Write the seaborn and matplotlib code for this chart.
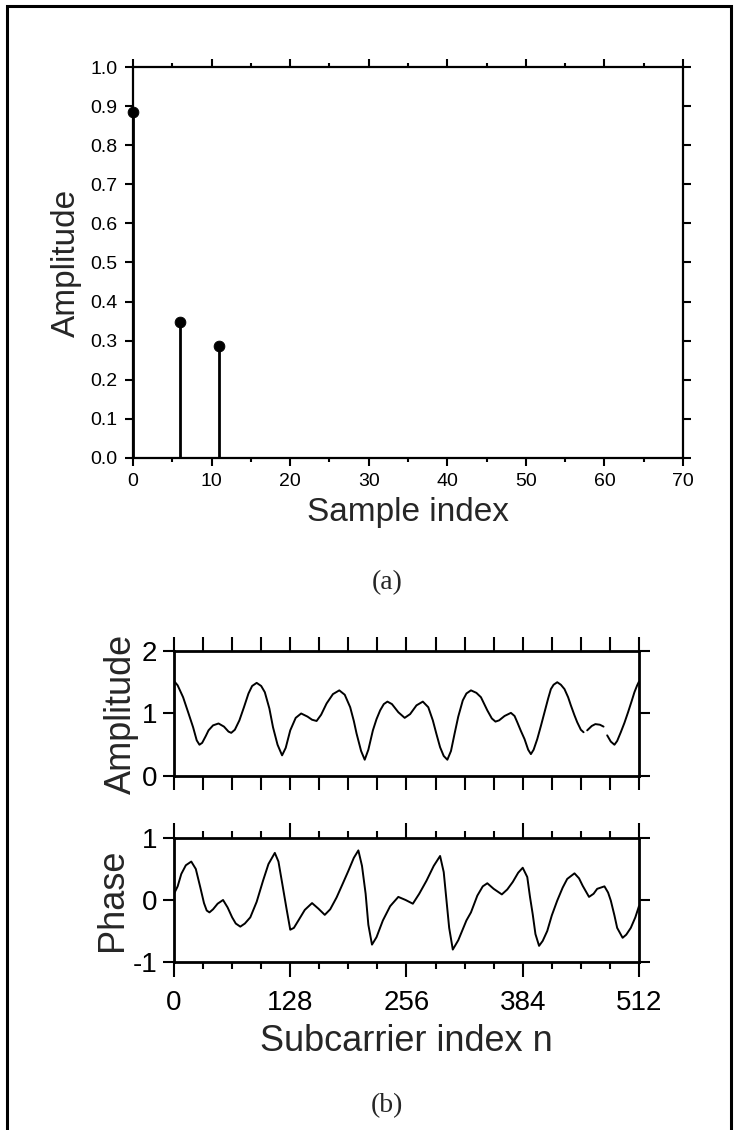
import numpy as np
import pandas as pd
import matplotlib
matplotlib.use("Agg")
import matplotlib.pyplot as plt
import seaborn as sns

# --- channel impulse response (a) ---
tap_index = [0, 6, 11]
tap_amp = [0.885, 0.347, 0.286]

# --- frequency response (b); NaN marks a break in the line ---
amp_n = [0, 4, 10, 16, 21, 25, 28, 31, 35, 38, 43, 49, 55, 60, 63, 67, 72, 77, 82, 86,
         91, 96, 100, 105, 109, 114, 119, 123, 128, 134, 140, 147, 152, 157, 162, 168, 175, 182, 188, 194,
         198, 201, 206, 210, 214, 219, 223, 227, 231, 235, 240, 247, 254, 260, 267, 274, 280, 285, 289, 293,
         297, 301, 305, 309, 313, 318, 322, 327, 333, 338, 345, 350, 354, 358, 364, 371, 375, 378, 382, 386,
         390, 393, 396, 400, 404, 408, 412, 415, 418, 422, 426, 430, 434, 437, 441, 444, 448, 451, 453, 455,
         460, 464, 469, 473, 475, 477, 481, 485, 488, 492, 496, 500, 504, 507, 510, 512]
amp_val = [1.52, 1.45, 1.26, 1.00, 0.78, 0.57, 0.50, 0.53, 0.64, 0.73, 0.81, 0.84, 0.79, 0.71, 0.69, 0.74, 0.89, 1.10, 1.32, 1.44,
           1.49, 1.44, 1.34, 1.08, 0.78, 0.50, 0.33, 0.45, 0.73, 0.93, 1.00, 0.95, 0.90, 0.88, 0.98, 1.16, 1.31, 1.37, 1.30, 1.10,
           0.88, 0.68, 0.40, 0.26, 0.42, 0.73, 0.91, 1.05, 1.15, 1.19, 1.15, 1.02, 0.93, 0.99, 1.13, 1.19, 1.10, 0.89, 0.67, 0.46,
           0.32, 0.26, 0.40, 0.68, 0.95, 1.21, 1.32, 1.37, 1.33, 1.26, 1.05, 0.92, 0.87, 0.89, 0.96, 1.01, 0.96, 0.86, 0.72, 0.59,
           0.42, 0.35, 0.42, 0.59, 0.80, 1.02, 1.24, 1.39, 1.46, 1.50, 1.46, 1.39, 1.26, 1.13, 0.97, 0.86, 0.74, 0.70, np.nan, 0.73,
           0.80, 0.83, 0.82, 0.79, np.nan, 0.65, 0.55, 0.50, 0.56, 0.70, 0.85, 1.02, 1.20, 1.34, 1.45, 1.51]

phase_n = [0, 4, 8, 13, 19, 24, 29, 33, 36, 39, 43, 48, 54, 59, 64, 68, 73, 78, 84, 91,
           98, 104, 111, 115, 119, 124, 128, 132, 137, 144, 152, 159, 166, 172, 179, 186, 192, 198, 203, 207,
           211, 214, 218, 223, 230, 238, 247, 255, 263, 270, 278, 286, 293, 297, 300, 303, 307, 313, 322, 327,
           334, 340, 345, 352, 361, 367, 373, 379, 384, 389, 392, 395, 398, 402, 406, 411, 416, 422, 428, 433,
           441, 446, 450, 457, 462, 466, 474, 478, 481, 485, 488, 494, 498, 503, 508, 512]
phase_val = [0.10, 0.22, 0.42, 0.56, 0.62, 0.50, 0.20, -0.05, -0.17, -0.20, -0.15, -0.06, 0.00, -0.12, -0.28, -0.38, -0.43, -0.38, -0.28, -0.03,
             0.31, 0.58, 0.76, 0.62, 0.28, -0.15, -0.48, -0.45, -0.33, -0.16, -0.05, -0.14, -0.24, -0.15, 0.04, 0.27, 0.47, 0.68, 0.80, 0.55,
             0.10, -0.40, -0.72, -0.60, -0.33, -0.10, 0.05, 0.00, -0.06, 0.10, 0.31, 0.55, 0.71, 0.45, 0.00, -0.45, -0.80, -0.65, -0.33, -0.20,
             0.07, 0.22, 0.27, 0.18, 0.09, 0.17, 0.29, 0.44, 0.52, 0.37, 0.05, -0.23, -0.55, -0.74, -0.66, -0.50, -0.25, -0.01, 0.20, 0.34,
             0.43, 0.35, 0.23, 0.05, 0.10, 0.18, 0.22, 0.12, -0.01, -0.25, -0.45, -0.61, -0.56, -0.45, -0.28, -0.10]

sns.set_theme(style="ticks")
plt.rcParams["font.family"] = ["Liberation Sans", "DejaVu Sans"]
plt.rcParams["axes.unicode_minus"] = False
plt.rcParams["axes.linewidth"] = 1.6

fig = plt.figure(figsize=(7.38, 11.30), dpi=100)

# === (a) stem plot ===
ax_a = fig.add_axes([0.1802, 0.5947, 0.7453, 0.3460])
ax_a.vlines(tap_index, 0, tap_amp, color="black", lw=2, clip_on=False, zorder=3)
sns.scatterplot(x=tap_index, y=tap_amp, ax=ax_a, color="black", s=60, edgecolor="black",
                clip_on=False, zorder=4, legend=False)
ax_a.set_xlim(0, 70)
ax_a.set_ylim(0, 1.0)
ax_a.set_xticks(np.arange(0, 71, 10))
ax_a.set_xticks(np.arange(0, 71, 5), minor=True)
ax_a.set_yticks(np.arange(0, 1.01, 0.1))
ax_a.set_yticklabels([f"{v:.1f}" for v in np.arange(0, 1.01, 0.1)])
ax_a.tick_params(which="both", direction="out", top=True, right=True, width=1.5,
                 labelsize=14, colors="black", pad=5)
ax_a.tick_params(which="major", length=6)
ax_a.tick_params(which="minor", length=3)
ax_a.set_xlabel("Sample index", fontsize=24, labelpad=5)
ax_a.set_ylabel("Amplitude", fontsize=24, labelpad=6)
for s in ax_a.spines.values():
    s.set_color("black")

# === (b) amplitude / phase ===
def seg_frame(n, v):
    df = pd.DataFrame({"n": n, "v": v})
    df["seg"] = df["v"].isna().cumsum()
    return df.dropna()

amp_df = seg_frame(amp_n, amp_val)
ph_df = seg_frame(phase_n, phase_val)

ax_m = fig.add_axes([0.2358, 0.3133, 0.6300, 0.1106])
ax_p = fig.add_axes([0.2358, 0.1487, 0.6300, 0.1097])

sns.lineplot(data=amp_df, x="n", y="v", units="seg", estimator=None, ax=ax_m,
             color="black", lw=1.4, sort=False)
sns.lineplot(data=ph_df, x="n", y="v", units="seg", estimator=None, ax=ax_p,
             color="black", lw=1.4, sort=False)

for ax in (ax_m, ax_p):
    ax.set_xlim(0, 512)
    ax.set_xticks([0, 128, 256, 384, 512])
    ax.set_xticks(np.arange(0, 513, 32), minor=True)
    ax.tick_params(which="both", direction="out", top=True, right=True, width=1.5,
                   labelsize=20, colors="black", pad=4)
    ax.tick_params(axis="y", which="major", length=8)
    for s in ax.spines.values():
        s.set_color("black")
        s.set_linewidth(2)

ax_m.set_ylim(0, 2)
ax_m.set_yticks([0, 1, 2])
ax_m.tick_params(axis="x", which="both", length=10, labelbottom=False)
ax_m.set_xlabel("")
ax_m.set_ylabel("Amplitude", fontsize=26, labelpad=2)

ax_p.set_ylim(-1, 1)
ax_p.set_yticks([-1, 0, 1])
ax_p.tick_params(axis="x", which="major", length=11, pad=9)
ax_p.tick_params(axis="x", which="minor", length=5)
ax_p.set_xlabel("Subcarrier index n", fontsize=26, labelpad=6)
ax_p.set_ylabel("Phase", fontsize=26, labelpad=2)

fig.text(0.524, 0.484, "(a)", ha="center", va="center", fontsize=20,
         family=["Liberation Serif", "DejaVu Serif"])
fig.text(0.524, 0.022, "(b)", ha="center", va="center", fontsize=20,
         family=["Liberation Serif", "DejaVu Serif"])

# outer frame
fig.add_artist(plt.Rectangle((0.010, -0.05), 0.981, 1.045, transform=fig.transFigure,
                             fill=False, edgecolor="black", lw=2.2))

fig.savefig("out.png", dpi=100)
